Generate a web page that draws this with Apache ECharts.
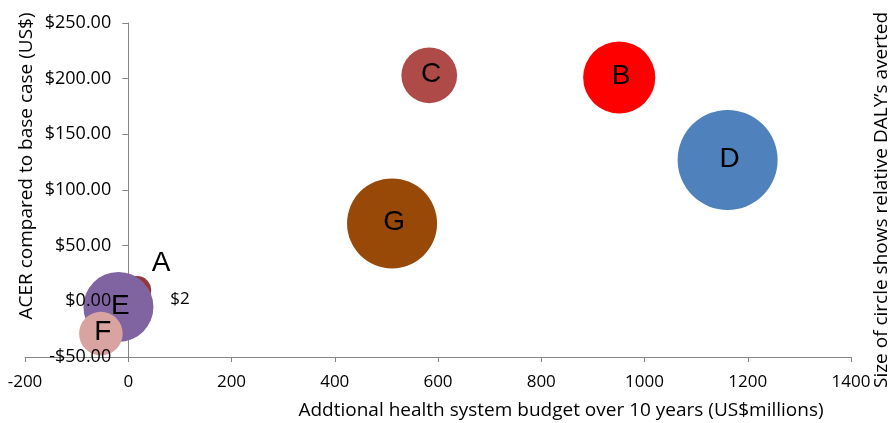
<!DOCTYPE html>
<html>
<head>
<meta charset="utf-8">
<script src="https://cdn.jsdelivr.net/npm/echarts@6/dist/echarts.min.js"></script>
<style>
  html, body { margin: 0; padding: 0; background: #fff; }
  #chart { width: 892px; height: 423px; }
</style>
</head>
<body>
<div id="chart"></div>
<script>
// Intervention options: extra budget (US$ millions), ACER (US$) and relative DALYs averted
const names = ['A', 'B', 'C', 'D', 'E', 'F', 'G'];
const budget = [17, 951, 583, 1161, -19, -53, 511];
const acer = [10, 201, 203, 127, -5, -29, 70];
const dalyRel = [8, 52, 31, 100, 49, 19, 81];

// Axis ticks
const xTicks = [-200, 0, 200, 400, 600, 800, 1000, 1200, 1400];
const yTicks = [-50, 0, 50, 100, 150, 200, 250];

// Styling
const colors = ['#953735', '#ff0000', '#ae4a47', '#4f81bd', '#8064a2', '#d9a3a1', '#984807'];
const axisGrey = '#868686';
const labelFont = '"Open Sans", sans-serif';
const letterFont = '"Liberation Sans", Arial, sans-serif';

const money = v => (v < 0 ? '-$' : '$') + Math.abs(v).toFixed(2);
const bubbleDiameter = d => 10 * Math.sqrt(d);

const chart = echarts.init(document.getElementById('chart'));

const series = names.map((n, i) => ({
  type: 'scatter',
  name: n,
  data: [[budget[i], acer[i], dalyRel[i]]],
  symbolSize: v => bubbleDiameter(v[2]),
  itemStyle: { color: colors[i], opacity: 1 },
  label: {
    show: true,
    formatter: n,
    position: 'inside',
    offset: n === 'A' ? [24, -27] : [2, -1],
    color: '#000',
    fontFamily: letterFont,
    fontSize: 28
  },
  emphasis: { disabled: true },
  silent: true
}));

// Cost note placed to the right of option A
series.push({
  type: 'scatter',
  name: 'A-note',
  data: [[budget[0], acer[0]]],
  symbolSize: 0,
  itemStyle: { opacity: 1 },
  label: {
    show: true,
    formatter: '$2',
    position: 'inside',
    offset: [43, 9],
    color: '#000',
    opacity: 1,
    fontFamily: labelFont,
    fontSize: 17
  },
  emphasis: { disabled: true },
  z: 1,
  silent: true
});

const yCommon = {
  type: 'value',
  min: yTicks[0],
  max: yTicks[yTicks.length - 1],
  interval: 50,
  splitLine: { show: false }
};

chart.setOption({
  animation: false,
  backgroundColor: '#fff',
  grid: { left: 25, right: 41, top: 23, bottom: 66 },
  xAxis: {
    type: 'value',
    min: xTicks[0],
    max: xTicks[xTicks.length - 1],
    interval: 200,
    splitLine: { show: false },
    axisLine: { onZero: false, lineStyle: { color: axisGrey, width: 1 } },
    axisTick: { show: true, length: 5, lineStyle: { color: axisGrey } },
    axisLabel: {
      color: '#000', fontFamily: labelFont, fontSize: 17, margin: 17,
      formatter: v => String(v)
    }
  },
  yAxis: [
    Object.assign({}, yCommon, {
      axisLine: { show: true, onZero: true, lineStyle: { color: axisGrey, width: 1 } },
      axisTick: { show: true, length: 6, lineStyle: { color: axisGrey } },
      axisLabel: { show: false }
    }),
    Object.assign({}, yCommon, {
      position: 'left',
      offset: -103.2,
      z: 10,
      axisLine: { show: false, onZero: false },
      axisTick: { show: false },
      axisLabel: {
        color: '#000', fontFamily: labelFont, fontSize: 18, margin: 17,
        formatter: money
      }
    })
  ],
  graphic: [
    {
      type: 'text', x: 27, y: 166, rotation: Math.PI / 2,
      style: {
        text: 'ACER compared to base case (US$)', fill: '#000',
        font: '19px ' + labelFont, textAlign: 'center', textVerticalAlign: 'middle'
      }
    },
    {
      type: 'text', x: 561, y: 411,
      style: {
        text: 'Addtional health system budget over 10 years (US$millions)', fill: '#000',
        font: '19px ' + labelFont, textAlign: 'center', textVerticalAlign: 'middle'
      }
    },
    {
      type: 'text', x: 882, y: 200, rotation: Math.PI / 2,
      style: {
        text: 'Size of circle shows relative DALY\u2019s averted', fill: '#000',
        font: '19px ' + labelFont, textAlign: 'center', textVerticalAlign: 'middle'
      }
    }
  ],
  series: series
});
</script>
</body>
</html>
